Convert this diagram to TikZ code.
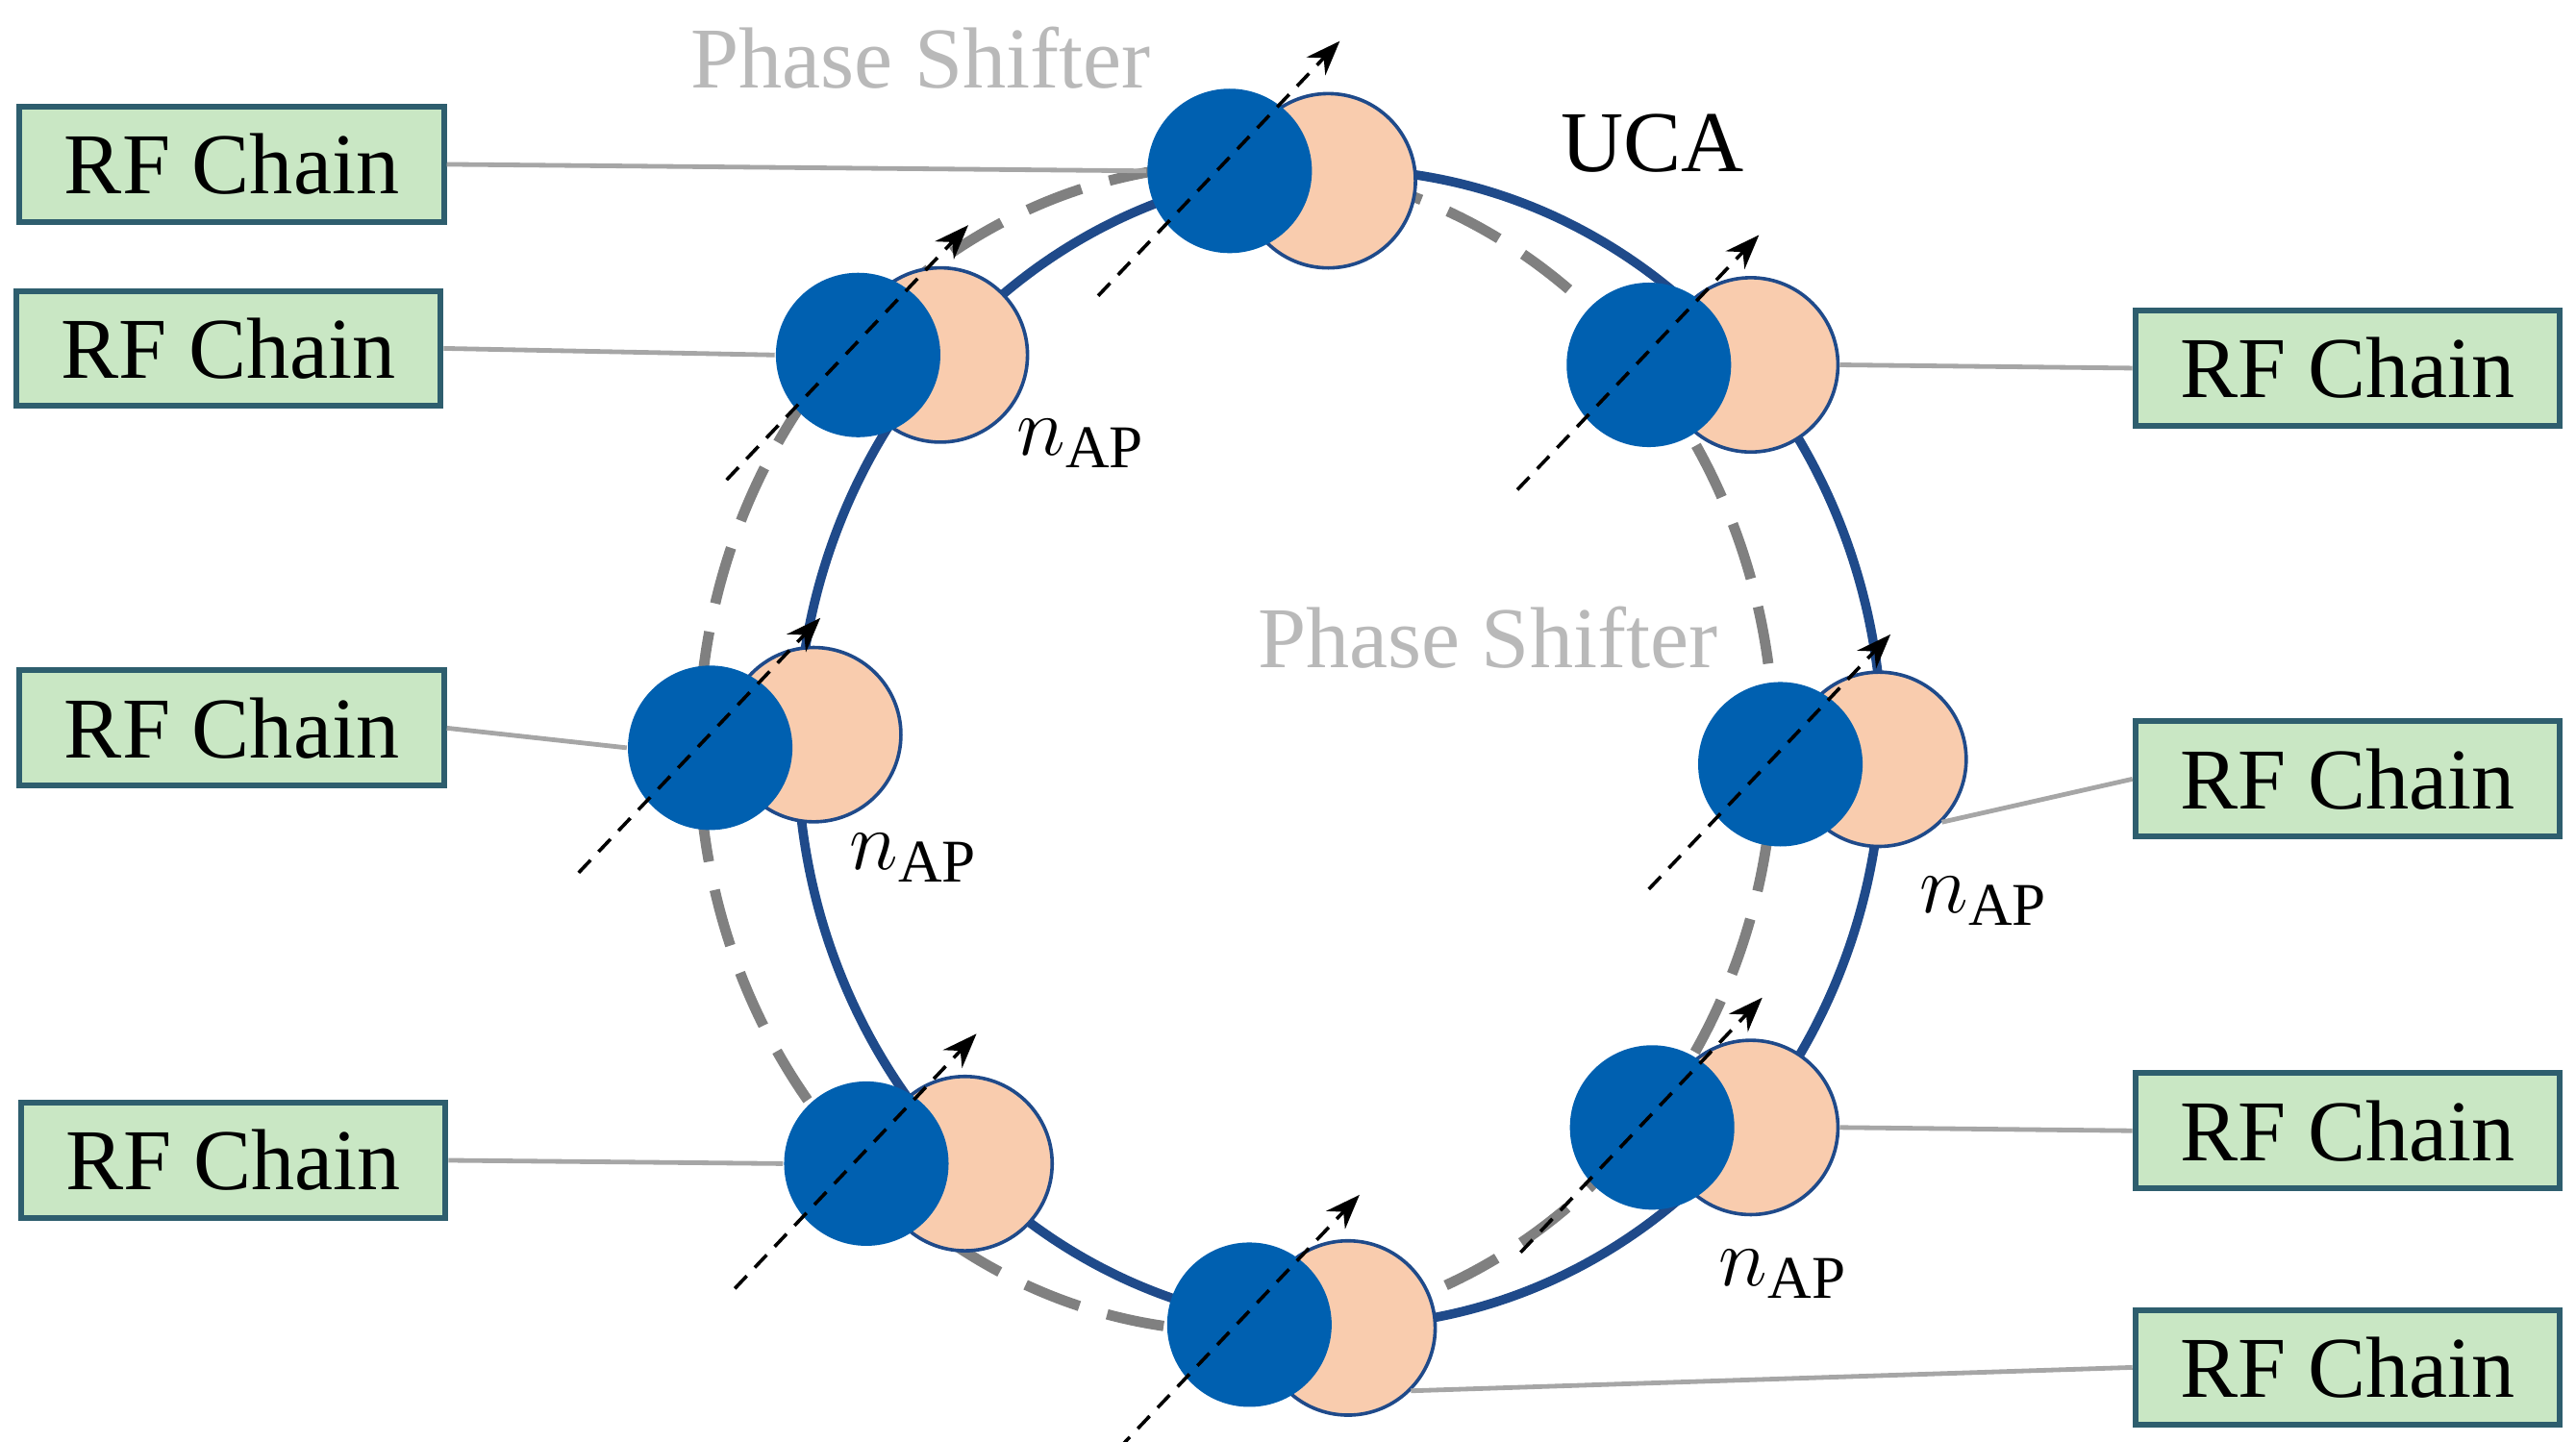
\documentclass[tikz,border=0pt]{standalone}
\usepackage{fontspec}
\setmainfont{Liberation Serif}
\usetikzlibrary{arrows.meta}
\definecolor{rfg}{HTML}{C9E7C4}
\definecolor{rfb}{HTML}{2E5E6E}
\definecolor{blu}{HTML}{0060B0}
\definecolor{pnk}{HTML}{F9CCAE}
\definecolor{ring}{HTML}{1F4A8A}
\begin{document}
\begin{tikzpicture}[x=0.01cm,y=-0.01cm,
 rf/.style={draw=rfb,fill=rfg,line width=1pt,minimum width=2.58cm,minimum height=0.7cm,font=\fontsize{15}{15}\selectfont,inner sep=0pt},
 pk/.style={circle,draw=ring,fill=pnk,line width=0.6pt,minimum size=1.06cm,inner sep=0pt},
 bl/.style={circle,fill=blu,minimum size=1.0cm,inner sep=0pt},
 ln/.style={draw=gray!70,line width=0.8pt},
 ps/.style={text=gray!55,font=\fontsize{15}{15}\selectfont},
 nap/.style={font=\fontsize{15}{15}\selectfont}]
\useasboundingbox (0,0) rectangle (1567,877);
\draw[ring,line width=1.6pt] (815,455) ellipse [x radius=330,y radius=352];
\draw[gray,dashed,line width=1.8pt,dash pattern=on 10pt off 5pt] (752,455) ellipse [x radius=327,y radius=355];
\foreach \n/\bx/\by/\px/\py in {a/748/104/808/110, b/522/216/572/216, c/432/455/495/447, d/527/708/587/708, e/760/806/820/808, f/1005/686/1065/686, g/1083/465/1143/462, h/1003/222/1065/222}{
 \node[pk] (p\n) at (\px,\py) {};
 \node[bl] (b\n) at (\bx,\by) {};
 \coordinate (s\n) at (\bx-80,\by+76);
 \coordinate (t\n) at (\bx+67,\by-79);
 \draw[densely dashed,line width=0.6pt,-{Stealth[length=6pt]}] (s\n) -- (t\n);
}
\node[rf] (r1) at (141,100) {RF Chain};
\node[rf] (r2) at (139,212) {RF Chain};
\node[rf] (r3) at (141,443) {RF Chain};
\node[rf] (r4) at (142,706) {RF Chain};
\node[rf] (r5) at (1428,224) {RF Chain};
\node[rf] (r6) at (1428,474) {RF Chain};
\node[rf] (r7) at (1428,688) {RF Chain};
\node[rf] (r8) at (1428,832) {RF Chain};
\draw[ln] (r1.east) -- (ba.west);
\draw[ln] (r2.east) -- (bb.west);
\draw[ln] (r3.east) -- (bc.west);
\draw[ln] (r4.east) -- (bd.west);
\draw[ln] (r5.west) -- (ph.east);
\draw[ln] (r6.west) -- (pg.south east);
\draw[ln] (r7.west) -- (pf.east);
\draw[ln] (r8.west) -- (pe.south east);
\node[ps] (t1) at (560,35) {Phase Shifter};
\node[ps] (t2) at (905,388) {Phase Shifter};
\node[font=\fontsize{15}{15}\selectfont] (u) at (1005,87) {UCA};
\node[nap] (n1) at (658,270) {$n_{\mathrm{AP}}$};
\node[nap] (n2) at (556,522) {$n_{\mathrm{AP}}$};
\node[nap] (n3) at (1207,548) {$n_{\mathrm{AP}}$};
\node[nap] (n4) at (1085,775) {$n_{\mathrm{AP}}$};
\end{tikzpicture}
\end{document}
